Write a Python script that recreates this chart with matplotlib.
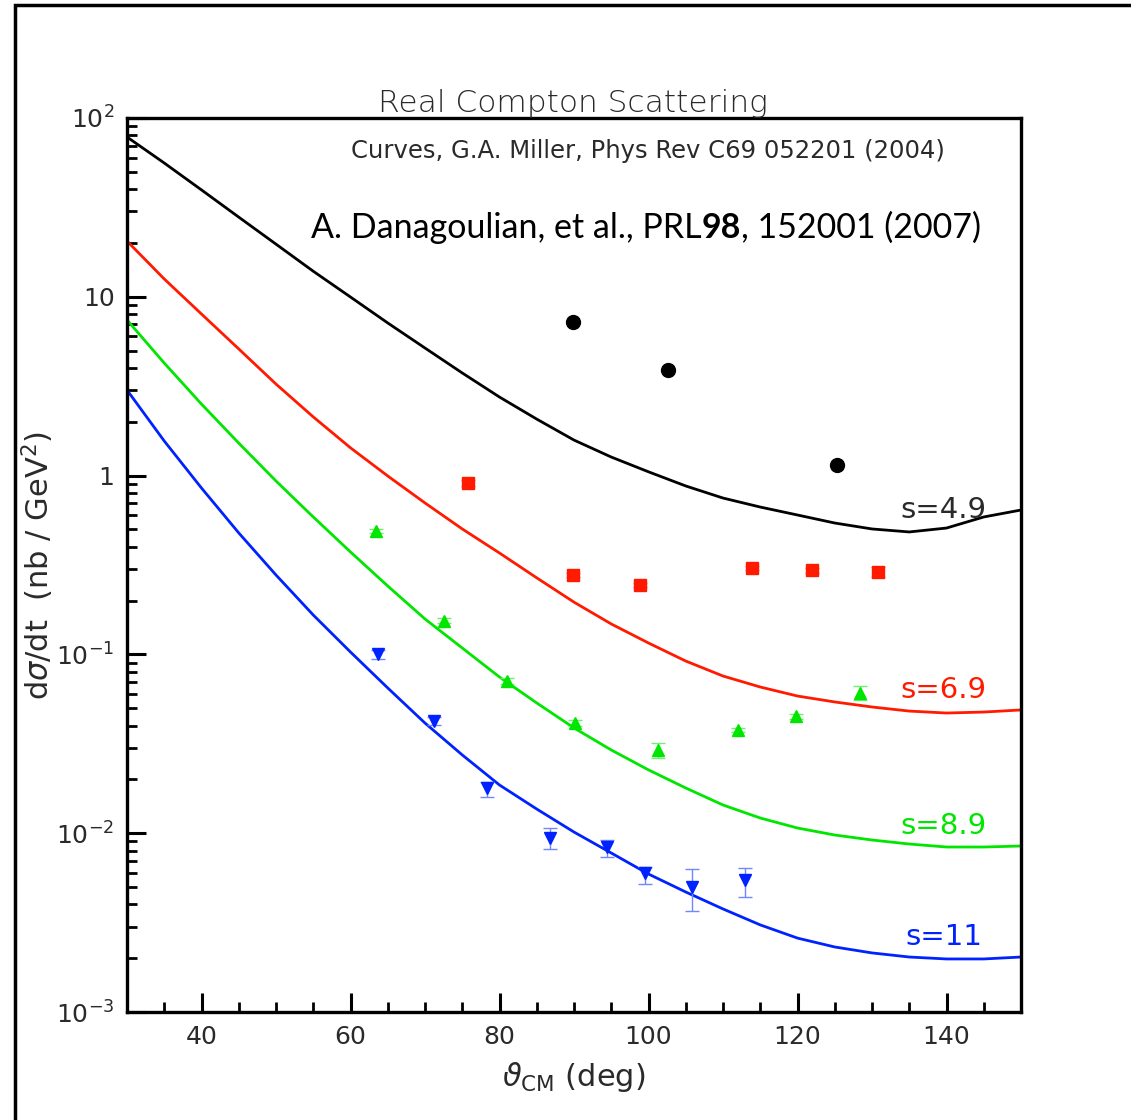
import numpy as np
import matplotlib
matplotlib.use("Agg")
import matplotlib.pyplot as plt
from matplotlib.patches import Rectangle
from matplotlib.ticker import FixedLocator, NullFormatter

# model curves (G.A. Miller), every 5 degrees
theta_curve = [30, 35, 40, 45, 50, 55, 60, 65, 70, 75, 80, 85, 90, 95, 100,
               105, 110, 115, 120, 125, 130, 135, 140, 145, 150]
s49_curve = [78.3, 56.0, 39.6, 27.9, 19.7, 13.9, 9.97, 7.14, 5.17, 3.75, 2.75, 2.07, 1.58,
             1.27, 1.05, 0.875, 0.749, 0.667, 0.602, 0.543, 0.503, 0.484, 0.509, 0.587, 0.642]
s69_curve = [20.5, 12.58, 8.01, 5.11, 3.25, 2.13, 1.43, 0.995, 0.703, 0.503, 0.369, 0.268,
             0.196, 0.148, 0.1158, 0.0918, 0.0757, 0.0657, 0.0585, 0.0542, 0.0508, 0.0482,
             0.0470, 0.0476, 0.0489]
s89_curve = [7.42, 4.26, 2.51, 1.52, 0.933, 0.587, 0.374, 0.2413, 0.1578, 0.1086, 0.0747,
             0.0535, 0.0388, 0.0292, 0.0226, 0.0179, 0.01438, 0.01216, 0.01069, 0.00977,
             0.00916, 0.00870, 0.00837, 0.00837, 0.00848]
s11_curve = [3.01, 1.561, 0.852, 0.478, 0.278, 0.1661, 0.1031, 0.0649, 0.0413, 0.0274,
             0.0186, 0.01365, 0.01015, 0.00775, 0.00591, 0.00469, 0.00377, 0.00307,
             0.00259, 0.00231, 0.00214, 0.00203, 0.00198, 0.00198, 0.00203]

# data points
s49_x = [89.9, 102.6, 125.3]
s49_y = [7.23, 3.9, 1.15]

s69_x = [75.8, 89.9, 98.9, 113.9, 121.9, 130.8]
s69_y = [0.91, 0.278, 0.244, 0.304, 0.296, 0.289]
s69_lo = [0.88, 0.27, 0.237, 0.295, 0.287, 0.27]
s69_hi = [0.94, 0.286, 0.251, 0.313, 0.305, 0.31]

s89_x = [63.4, 72.6, 81.0, 90.1, 101.3, 112.0, 119.8, 128.4]
s89_y = [0.49, 0.154, 0.071, 0.0413, 0.0292, 0.0378, 0.0452, 0.0608]
s89_lo = [0.475, 0.149, 0.068, 0.0398, 0.0265, 0.0366, 0.0438, 0.0555]
s89_hi = [0.505, 0.159, 0.074, 0.0428, 0.0318, 0.039, 0.0466, 0.0665]

s11_x = [63.7, 71.2, 78.3, 86.8, 94.4, 99.5, 105.8, 112.95]
s11_y = [0.1005, 0.0425, 0.0179, 0.0094, 0.00841, 0.00598, 0.00502, 0.00547]
s11_lo = [0.0945, 0.0405, 0.0160, 0.00817, 0.00736, 0.0052, 0.00369, 0.00439]
s11_hi = [0.1065, 0.0445, 0.0193, 0.01069, 0.00917, 0.0065, 0.00631, 0.00641]

ytick_vals = [1e-3, 1e-2, 1e-1, 1, 10, 100]
ytick_labels = [r'$10^{-3}$', r'$10^{-2}$', r'$10^{-1}$', '1', '10', r'$10^{2}$']
xtick_vals = [40, 60, 80, 100, 120, 140]

RED = '#ff1a00'
GREEN = '#00e600'
BLUE = '#0022ff'
GREY = '#2a2a2a'

fig = plt.figure(figsize=(11.31, 11.2), dpi=100)
ax = fig.add_axes([127/1131, 1-1012/1120, (1021-127)/1131, (1012-118)/1120])

ax.plot(theta_curve, s49_curve, '-', color='black', lw=2.0)
ax.plot(theta_curve, s69_curve, '-', color=RED, lw=2.0)
ax.plot(theta_curve, s89_curve, '-', color=GREEN, lw=2.0)
ax.plot(theta_curve, s11_curve, '-', color=BLUE, lw=2.0)

def errs(y, lo, hi):
    y = np.array(y)
    return [y - np.array(lo), np.array(hi) - y]

ax.plot(s49_x, s49_y, 'o', color='black', ms=10)
ax.errorbar(s69_x, s69_y, yerr=errs(s69_y, s69_lo, s69_hi), fmt='s', color=RED,
            ms=9, ecolor='#ff8070', elinewidth=1, capsize=5)
ax.errorbar(s89_x, s89_y, yerr=errs(s89_y, s89_lo, s89_hi), fmt='^', color=GREEN,
            ms=9, ecolor='#70f070', elinewidth=1, capsize=5)
ax.errorbar(s11_x, s11_y, yerr=errs(s11_y, s11_lo, s11_hi), fmt='v', color=BLUE,
            ms=9, ecolor='#7088ff', elinewidth=1, capsize=5)

ax.set_yscale('log')
ax.set_xlim(30, 150)
ax.set_ylim(1e-3, 1e2)

ax.set_xticks(xtick_vals)
ax.set_xticklabels([str(v) for v in xtick_vals])
ax.xaxis.set_minor_locator(FixedLocator(np.arange(35, 150, 5)))
ax.set_yticks(ytick_vals)
ax.set_yticklabels(ytick_labels)
ax.yaxis.set_minor_locator(FixedLocator([m * 10.0**e for e in range(-3, 2) for m in range(2, 10)]))
ax.yaxis.set_minor_formatter(NullFormatter())

ax.tick_params(which='both', direction='in', top=False, right=False, colors='black',
               labelcolor=GREY, labelsize=18)
ax.tick_params(which='major', length=14, width=2.2, pad=9)
ax.tick_params(which='minor', length=7, width=2.0)
for sp in ax.spines.values():
    sp.set_linewidth(2.4)

ax.set_xlabel(r'$\vartheta_{\mathrm{CM}}$ (deg)', fontsize=22, color=GREY, labelpad=8)
ax.set_ylabel(r'd$\sigma$/dt  (nb / GeV$^2$)', fontsize=22, color=GREY)
ax.yaxis.set_label_coords(-0.079, 0.5)

# curve labels
ax.text(145.4, 0.643, 's=4.9', color=GREY, fontsize=21, ha='right', va='center')
ax.text(145.4, 0.0632, 's=6.9', color=RED, fontsize=21, ha='right', va='center')
ax.text(145.4, 0.01096, 's=8.9', color=GREEN, fontsize=21, ha='right', va='center')
ax.text(144.8, 0.00262, 's=11', color=BLUE, fontsize=21, ha='right', va='center')

fig.text(573/1131, 1-112/1120, 'Real Compton Scattering', fontsize=22.5, color=GREY,
         ha='center', va='baseline', fontweight='light')
fig.text(648/1131, 1-151/1120, 'Curves, G.A. Miller, Phys Rev C69 052201 (2004)',
         fontsize=17.5, color=GREY, ha='center', va='center')

t1 = fig.text(311/1131, 1-228/1120, 'A. Danagoulian, et al., PRL', fontsize=24.5,
              color='black', ha='left', va='center', family='Lato')
t2 = ax.annotate('98', xy=(1, 0), xycoords=t1, fontsize=24.5, color='black',
                 ha='left', va='bottom', family='Lato', fontweight='bold')
ax.annotate(', 152001 (2007)', xy=(1, 0), xycoords=t2, fontsize=24.5, color='black',
            ha='left', va='bottom', family='Lato')

# outer frame of the slide
fig.patches.append(Rectangle((15/1131, -0.05), 1.2, 1-5/1120+0.05, transform=fig.transFigure,
                             fill=False, edgecolor='black', lw=2.5, clip_on=False))

fig.savefig('out.png', dpi=100)
